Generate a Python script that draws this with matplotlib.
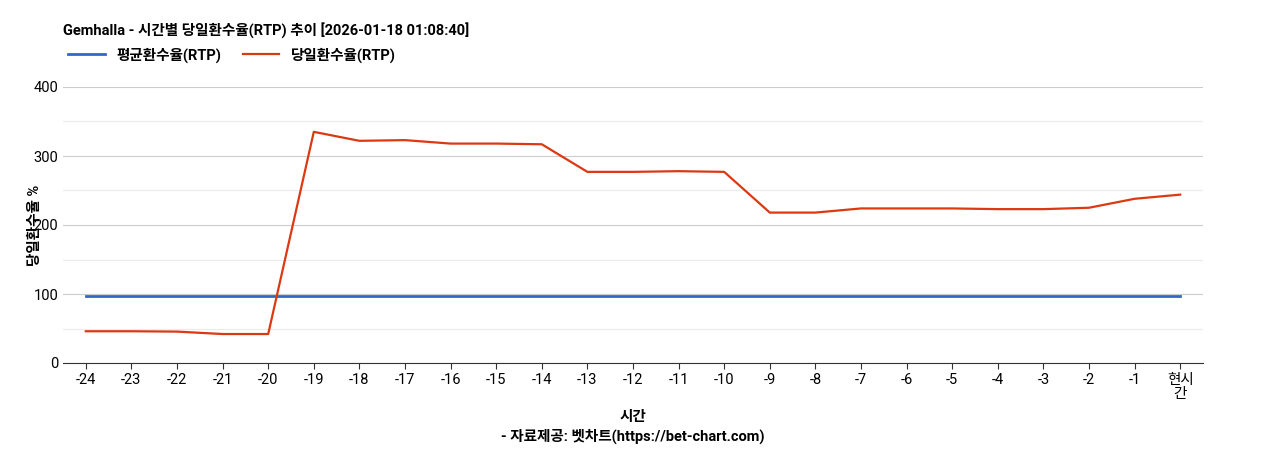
import matplotlib
matplotlib.use("Agg")
import matplotlib.pyplot as plt

plt.rcParams["font.family"] = ["Roboto", "Noto Sans CJK KR", "DejaVu Sans"]

hours = [str(h) for h in range(-24, 0)] + ["현시\n간"]
avg_rtp = [97] * 25
day_rtp = [46, 46, 45.5, 42, 42, 335, 322, 323, 318, 318, 317, 277, 277, 278, 277,
           218, 218, 224, 224, 224, 223, 223, 225, 238, 244]

fig = plt.figure(figsize=(12.68, 4.5), dpi=100)
ax = fig.add_axes([63 / 1268, 87 / 450, (1203 - 63) / 1268, (363 - 87) / 450])
x = range(len(hours))
ax.plot(x, avg_rtp, color="#3366cc", linewidth=2, label="평균환수율(RTP)")
ax.plot(x, day_rtp, color="#dc3912", linewidth=1.6, label="당일환수율(RTP)")

ax.set_xlim(-0.5, len(hours) - 0.5)
ax.set_ylim(0, 400)
ax.set_yticks([0, 100, 200, 300, 400])
ax.set_yticks([50, 150, 250, 350], minor=True)
ax.grid(axis="y", which="major", color="#cccccc", linewidth=0.8)
ax.grid(axis="y", which="minor", color="#ebebeb", linewidth=0.8)
ax.tick_params(axis="y", which="both", length=0, labelsize=10.5)
ax.set_xticks(list(x))
ax.set_xticklabels(hours, fontsize=10.5, linespacing=1.0)
ax.tick_params(axis="x", length=4, color="#333333")
for side in ["top", "right", "left"]:
    ax.spines[side].set_visible(False)
ax.spines["bottom"].set_color("#333333")
ax.set_axisbelow(True)

ax.set_ylabel("당일환수율 %", fontsize=10.5, fontweight="bold")
ax.yaxis.set_label_coords(-21 / 1140, 0.5)
ax.set_xlabel("시간\n- 자료제공: 벳차트(https://bet-chart.com)", fontsize=10.5,
              fontweight="bold", linespacing=1.4, labelpad=6)

fig.text(63 / 1268, 1 - 30 / 450, "Gemhalla - 시간별 당일환수율(RTP) 추이 [2026-01-18 01:08:40]",
         fontsize=10.5, fontweight="bold", va="center")
fig.legend(loc="center left", bbox_to_anchor=(55 / 1268, 1 - 55 / 450), ncol=2,
           frameon=False, prop={"size": 10.5, "weight": "bold"},
           handlelength=2.5, columnspacing=1.5)

fig.savefig("out.png", dpi=100)
